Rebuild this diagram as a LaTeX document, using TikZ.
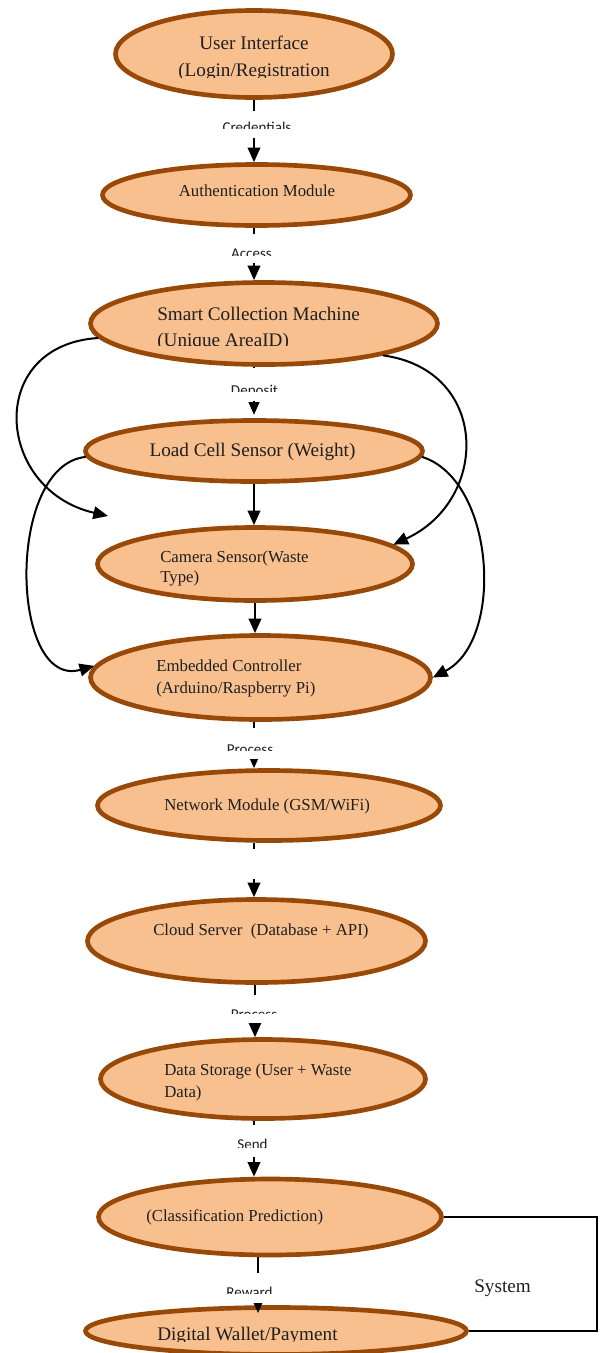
\documentclass[tikz,border=0pt]{standalone}
\usepackage{fontspec}
\setmainfont{Liberation Serif}
\newfontfamily\lblfont{Carlito}
\usetikzlibrary{shapes.geometric,arrows.meta}
\definecolor{fil}{HTML}{F8C08F}
\definecolor{brd}{HTML}{984807}
\definecolor{txtc}{HTML}{1F1F1F}
\pgfdeclarelayer{fg}
\pgfsetlayers{main,fg}
\begin{document}
\begin{tikzpicture}[x=0.75pt,y=-0.75pt,
  ell/.style={ellipse, draw=brd, fill=fil, line width=3.5pt, inner sep=0pt},
  bigtxt/.style={font=\fontsize{14.4}{17}\selectfont, inner sep=0pt, text=txtc},
  smtxt/.style={font=\fontsize{12.6}{15}\selectfont, inner sep=0pt, text=txtc},
  wbox/.style={fill=white, inner sep=0pt, minimum width=60pt},
  lbl/.style={font=\lblfont\fontsize{11.3}{13}\selectfont, inner sep=0pt, anchor=base, text=txtc},
  arr/.style={line width=1.5pt, -{Triangle[length=11pt,width=9.5pt]}},
  arrs/.style={line width=1.5pt, -{Triangle[length=9.5pt,width=8pt]}},
  sysline/.style={line width=1.1pt}]
\clip (0,0) rectangle (602,1353);
% ---------- ellipses ----------
\node[ell, minimum width=277*0.75pt, minimum height=87*0.75pt] (ui) at (254,54) {};
\node[ell, minimum width=308*0.75pt, minimum height=61*0.75pt] (auth) at (256.5,195) {};
\node[ell, minimum width=347*0.75pt, minimum height=82*0.75pt] (smart) at (264,323.5) {};
\node[ell, minimum width=337*0.75pt, minimum height=61*0.75pt] (load) at (254,451) {};
\node[ell, minimum width=315*0.75pt, minimum height=73*0.75pt] (camera) at (255,564) {};
\node[ell, minimum width=340*0.75pt, minimum height=84*0.75pt] (emb) at (260.5,677.5) {};
\node[ell, minimum width=343*0.75pt, minimum height=70*0.75pt] (net) at (269,805.5) {};
\node[ell, minimum width=338*0.75pt, minimum height=83*0.75pt] (cloud) at (256.5,941) {};
\node[ell, minimum width=325*0.75pt, minimum height=79*0.75pt] (data) at (263,1079) {};
\node[ell, minimum width=343*0.75pt, minimum height=76*0.75pt] (class) at (270,1217) {};
\node[ell, minimum width=381*0.75pt, minimum height=47*0.75pt] (wallet) at (276,1331) {};
% ---------- node texts ----------
\node[bigtxt, anchor=base] (t-ui1) at (254,49.5) {User Interface};
\begin{scope}
  \clip (100,58) rectangle (400,77);
  \node[bigtxt, anchor=base] (t-ui2) at (254,76) {(Login/Registration};
\end{scope}
\node[smtxt, anchor=base] (t-auth) at (257,196.5) {Authentication Module};
\node[bigtxt, anchor=base west] (t-smart1) at (157,320.5) {Smart Collection Machine};
\begin{scope}
  \clip (100,325) rectangle (440,345.5);
  \node[bigtxt, anchor=base west] (t-smart2) at (157,346.5) {(Unique AreaID)};
\end{scope}
\node[bigtxt, anchor=base] (t-load) at (252.5,456) {Load Cell Sensor (Weight)};
\node[smtxt, anchor=base west] (t-cam1) at (160,562.5) {Camera Sensor(Waste};
\node[smtxt, anchor=base west] (t-cam2) at (160,582.5) {Type)};
\node[smtxt, anchor=base west] (t-emb1) at (156,671.5) {Embedded Controller};
\node[smtxt, anchor=base west] (t-emb2) at (156,693.5) {(Arduino/Raspberry Pi)};
\node[smtxt, anchor=base west] (t-net) at (164,810.5) {Network Module (GSM/WiFi)};
\node[smtxt, anchor=base west] (t-cloud) at (153,935.5) {Cloud Server\ \ (Database + API)};
\node[smtxt, anchor=base west] (t-data1) at (164,1075.5) {Data Storage (User + Waste};
\node[smtxt, anchor=base west] (t-data2) at (164,1097.5) {Data)};
\node[smtxt, anchor=base west] (t-class) at (146,1221.5) {(Classification Prediction)};
\begin{scope}
  \clip (80,1310) rectangle (470,1341);
  \node[bigtxt, anchor=base west] (t-wallet) at (157,1340) {Digital Wallet/Payment};
\end{scope}
\node[bigtxt, anchor=base west] (t-sys) at (474,1292.5) {System};
% ---------- label boxes (foreground) ----------
\begin{pgfonlayer}{fg}
\node[wbox, minimum height=27*0.75pt] (lcred) at (254,124.5) {};
\begin{scope}\clip (200,111) rectangle (310,128.5);
  \node[lbl] (t-cred) at (257,132.5) {Credentials};\end{scope}
\node[wbox, minimum height=29*0.75pt] (lacc) at (254,248.5) {};
\begin{scope}\clip (200,234) rectangle (310,255);
  \node[lbl] (t-acc) at (251.5,258.5) {Access};\end{scope}
\node[wbox, minimum height=33*0.75pt] (ldep) at (254,384.5) {};
\begin{scope}\clip (200,368) rectangle (310,391);
  \node[lbl] (t-dep) at (254.5,395.5) {Deposit};\end{scope}
\node[wbox, minimum height=31*0.75pt] (lproc1) at (254,743.5) {};
\begin{scope}\clip (200,728) rectangle (310,750);
  \node[lbl] (t-proc1) at (250,754.5) {Process};\end{scope}
\node[wbox, minimum height=30*0.75pt] (lnet) at (254,864) {};
\node[wbox, minimum height=28*0.75pt] (lproc2) at (255,1009) {};
\begin{scope}\clip (200,995) rectangle (310,1013.5);
  \node[lbl] (t-proc2) at (254,1019.5) {Process};\end{scope}
\node[wbox, minimum height=32*0.75pt] (lsend) at (254,1141) {};
\begin{scope}\clip (200,1125) rectangle (310,1147.5);
  \node[lbl] (t-send) at (252.5,1149.5) {Send};\end{scope}
\node[wbox, minimum height=30*0.75pt] (lrew) at (258,1288) {};
\begin{scope}\clip (200,1273) rectangle (310,1293);
  \node[lbl] (t-rew) at (249.5,1297.5) {Reward};\end{scope}
\end{pgfonlayer}
% ---------- connectors ----------
\coordinate (tipA) at (108,516);
\coordinate (rewtip) at (258,1313);
\draw[arr] (lcred |- ui.south) -- (lcred |- auth.north);
\draw[arr] (lacc |- auth.south) -- (lacc |- smart.north);
\draw[arrs, shorten >=2.5pt] (ldep |- smart.south) -- (ldep |- load.north);
\draw[arr] (load.south) -- (load.south |- camera.north);
\draw[arr] (camera.south) -- (camera.south |- emb.north);
\draw[arr] (lproc1 |- emb.south) -- (lproc1 |- net.north);
\draw[arr] (lnet |- net.south) -- (lnet |- cloud.north);
\draw[arr] (lproc2 |- cloud.south) -- (lproc2 |- data.north);
\draw[arr] (lsend |- data.south) -- (lsend |- class.north);
\draw[arrs] (rewtip |- class.south) -- (rewtip);
\draw[arr] (smart.185) .. controls (-15,345) and (-5,490) .. (tipA);
\draw[arr] (smart.345) .. controls (490,370) and (490,500) .. (camera.8);
\draw[arr] (load.182) .. controls (5,465) and (10,690) .. (emb.176);
\draw[arr] (load.358) .. controls (495,480) and (505,640) .. (emb.0);
\coordinate (sysc) at (597,1330);
\draw[sysline] (class.east) -| (sysc) |- (wallet.east);
\end{tikzpicture}
\end{document}
